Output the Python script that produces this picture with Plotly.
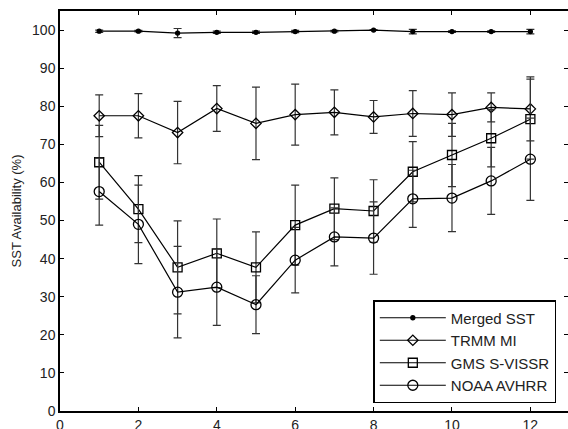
import plotly.graph_objects as go

months = [1, 2, 3, 4, 5, 6, 7, 8, 9, 10, 11, 12]

merged_sst = [99.7, 99.7, 99.2, 99.4, 99.4, 99.6, 99.7, 100.0, 99.6, 99.6, 99.6, 99.6]
merged_err = [0.3, 0.2, 1.2, 0.3, 0.3, 0.3, 0.2, 0.1, 0.6, 0.2, 0.2, 0.6]

trmm_mi = [77.5, 77.5, 73.1, 79.4, 75.5, 77.8, 78.4, 77.2, 78.1, 77.8, 79.7, 79.3]
trmm_err = [5.5, 5.8, 8.2, 6.0, 9.5, 8.0, 5.9, 4.3, 6.0, 5.7, 3.8, 8.4]

gms_svissr = [65.3, 53.0, 37.7, 41.4, 37.7, 48.8, 53.1, 52.5, 62.8, 67.2, 71.6, 76.6]
gms_err = [9.7, 8.8, 12.2, 9.0, 9.3, 10.5, 8.1, 8.2, 7.9, 8.3, 7.5, 10.5]

noaa_avhrr = [57.6, 49.0, 31.2, 32.5, 27.9, 39.6, 45.7, 45.4, 55.7, 55.9, 60.4, 66.1]
noaa_err = [8.8, 10.3, 12.0, 10.0, 7.6, 8.6, 7.6, 9.5, 7.5, 8.8, 8.8, 10.8]

x_ticks = [0, 2, 4, 6, 8, 10, 12]
y_ticks = [0, 10, 20, 30, 40, 50, 60, 70, 80, 90, 100]

series = [
    ("Merged SST", merged_sst, merged_err, "circle", 4),
    ("TRMM MI", trmm_mi, trmm_err, "diamond-open", 8),
    ("GMS S-VISSR", gms_svissr, gms_err, "square-open", 9),
    ("NOAA AVHRR", noaa_avhrr, noaa_err, "circle-open", 10),
]

fig = go.Figure()
for name, vals, errs, sym, size in series:
    fig.add_trace(go.Scatter(
        x=months, y=vals, name=name, mode="lines+markers",
        line=dict(color="black", width=1.2),
        marker=dict(symbol=sym, size=size, color="black",
                    line=dict(color="black", width=1.3)),
        error_y=dict(type="data", array=errs, visible=True,
                     color="#333333", thickness=1.2, width=4),
    ))

font_family = "Liberation Sans, Arial, sans-serif"

fig.update_layout(
    width=568, height=429,
    margin=dict(l=60, r=0, t=11, b=18, autoexpand=False),
    paper_bgcolor="white", plot_bgcolor="white",
    font=dict(family=font_family, size=14, color="#222222"),
    showlegend=True,
    legend=dict(
        x=0.977, y=0.02, xanchor="right", yanchor="bottom",
        bgcolor="white", bordercolor="black", borderwidth=1.5,
        font=dict(family=font_family, size=15, color="#222222"),
        tracegroupgap=0, itemwidth=66,
    ),
    xaxis=dict(
        range=[0, 12.96], tickmode="array", tickvals=x_ticks,
        ticks="inside", ticklen=4, tickcolor="black",
        showline=True, linecolor="black", linewidth=1.5, mirror="ticks",
        showgrid=False, zeroline=False, automargin=False,
        tickfont=dict(size=14),
    ),
    yaxis=dict(
        range=[0, 105], tickmode="array", tickvals=y_ticks,
        ticks="inside", ticklen=4, tickcolor="black",
        showline=True, linecolor="black", linewidth=1.5, mirror="ticks",
        showgrid=False, zeroline=False, automargin=False,
        tickfont=dict(size=14),
        title=dict(text="SST Availability (%)", font=dict(size=13), standoff=8),
    ),
)

fig.write_html("out.html", config={"displayModeBar": False},
               post_script="document.body.style.margin='0';")
